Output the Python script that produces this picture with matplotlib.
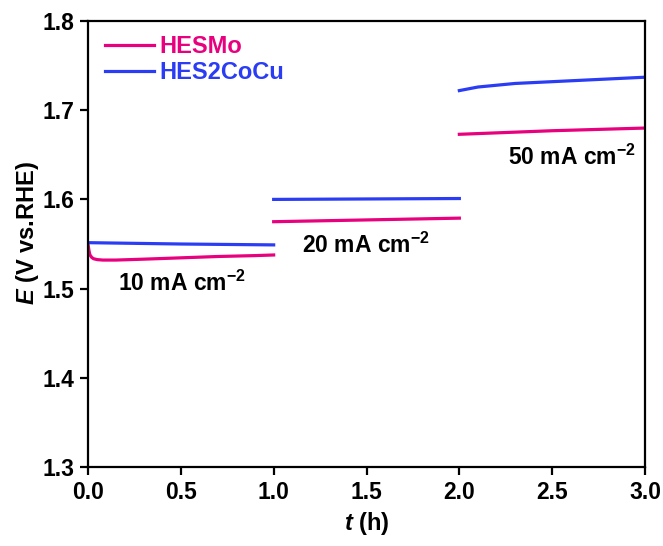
import matplotlib
matplotlib.use("Agg")
import matplotlib.pyplot as plt

plt.rcParams['font.family'] = ['Liberation Sans', 'DejaVu Sans']
plt.rcParams['font.weight'] = 'bold'
plt.rcParams['mathtext.fontset'] = 'custom'
plt.rcParams['mathtext.rm'] = 'Liberation Sans:bold'
plt.rcParams['mathtext.it'] = 'Liberation Sans:italic:bold'
plt.rcParams['mathtext.bf'] = 'Liberation Sans:bold'

# HESMo segments (time in h, potential in V vs. RHE)
mo_t1 = [0, 0.005, 0.01, 0.02, 0.03, 0.05, 0.08, 0.15, 0.3, 0.5, 0.7, 0.9, 1.0]
mo_e1 = [1.550, 1.543, 1.538, 1.535, 1.5335, 1.5325, 1.532, 1.532, 1.533, 1.5345, 1.536, 1.537, 1.5377]
mo_t2 = [1.0, 1.5, 2.0]
mo_e2 = [1.575, 1.577, 1.579]
mo_t3 = [2.0, 2.5, 3.0]
mo_e3 = [1.673, 1.677, 1.680]

# HES2CoCu segments
cu_t1 = [0, 0.5, 1.0]
cu_e1 = [1.5515, 1.550, 1.549]
cu_t2 = [1.0, 1.5, 2.0]
cu_e2 = [1.600, 1.6005, 1.601]
cu_t3 = [2.0, 2.1, 2.3, 2.6, 3.0]
cu_e3 = [1.722, 1.726, 1.730, 1.733, 1.737]

labels = ['HESMo', 'HES2CoCu']
colors = ['#E8007E', '#2B3CF5']
xticks = [0.0, 0.5, 1.0, 1.5, 2.0, 2.5, 3.0]
yticks = [1.3, 1.4, 1.5, 1.6, 1.7, 1.8]
annots = ['10 mA cm$\\mathregular{^{-2}}$', '20 mA cm$\\mathregular{^{-2}}$', '50 mA cm$\\mathregular{^{-2}}$']
annot_pos = [(0.16, 1.506), (1.153, 1.548), (2.262, 1.6475)]

fig = plt.figure(figsize=(6.63, 5.46), dpi=100)
ax = fig.add_axes([0.1327, 0.1447, 0.8402, 0.8168])

lw = 2.3
for i, (t, e) in enumerate([(mo_t1, mo_e1), (mo_t2, mo_e2), (mo_t3, mo_e3)]):
    ax.plot(t, e, color=colors[0], lw=lw, label=labels[0] if i == 0 else None)
for i, (t, e) in enumerate([(cu_t1, cu_e1), (cu_t2, cu_e2), (cu_t3, cu_e3)]):
    ax.plot(t, e, color=colors[1], lw=lw, label=labels[1] if i == 0 else None)

ax.set_xlim(0, 3.0)
ax.set_ylim(1.3, 1.8)
ax.set_xticks(xticks)
ax.set_yticks(yticks)
ax.set_xticklabels([f'{v:.1f}' for v in xticks])
ax.set_yticklabels([f'{v:.1f}' for v in yticks])
ax.tick_params(direction='out', length=6, width=1.6, labelsize=16.5, pad=4)
for s in ax.spines.values():
    s.set_linewidth(1.6)

ax.set_xlabel('$t$ (h)', fontsize=17, fontweight='bold', labelpad=4.5)
ax.set_ylabel('$E$ (V vs.RHE)', fontsize=17, fontweight='bold', labelpad=1, y=0.525)

for txt, (x, y) in zip(annots, annot_pos):
    ax.text(x, y, txt, fontsize=16.5, fontweight='bold', ha='left', va='center')

leg = ax.legend(loc='upper left', frameon=False, fontsize=17, handlelength=2.1,
                handletextpad=0.2, labelspacing=0.12, borderaxespad=0.0,
                bbox_to_anchor=(0.013, 0.989))
for text, c in zip(leg.get_texts(), colors):
    text.set_color(c)
    text.set_fontweight('bold')

fig.savefig('out.png', dpi=100)
